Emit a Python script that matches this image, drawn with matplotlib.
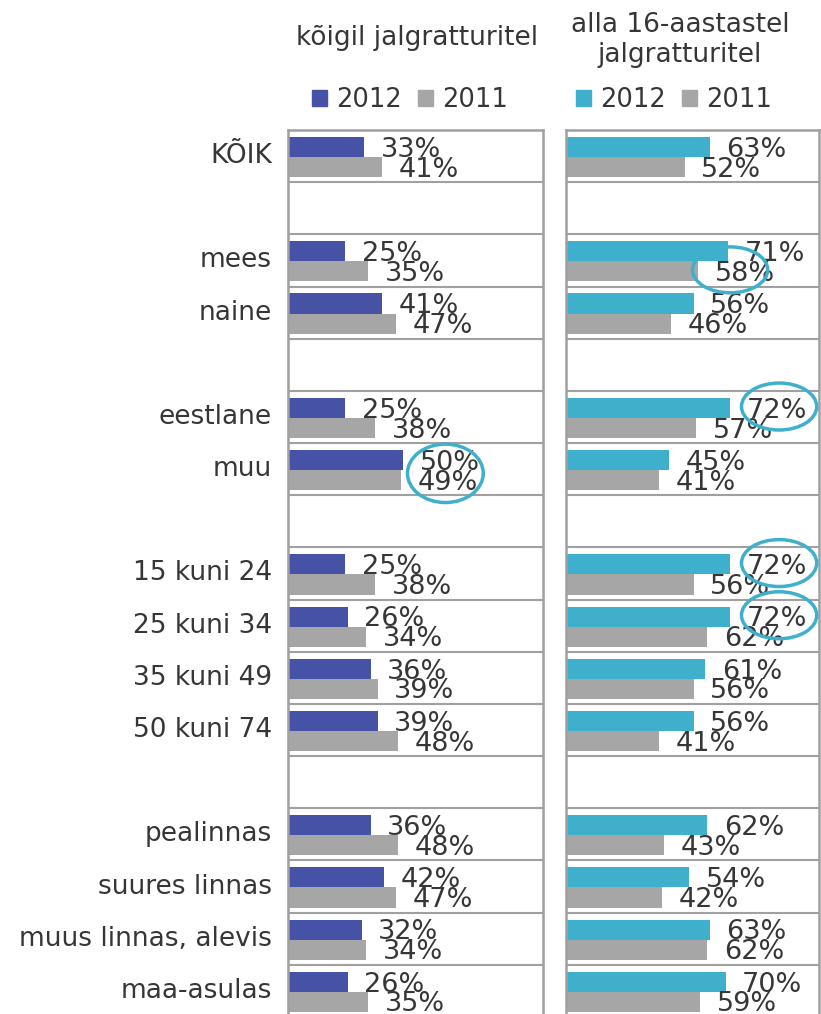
import matplotlib.pyplot as plt
from matplotlib.patches import Ellipse, Patch
import numpy as np

# rows from top to bottom, "" is an empty spacer row
categories = ["KÕIK", "", "mees", "naine", "", "eestlane", "muu", "",
              "15 kuni 24", "25 kuni 34", "35 kuni 49", "50 kuni 74", "",
              "pealinnas", "suures linnas", "muus linnas, alevis", "maa-asulas"]

all_2012 = [33, None, 25, 41, None, 25, 50, None, 25, 26, 36, 39, None, 36, 42, 32, 26]
all_2011 = [41, None, 35, 47, None, 38, 49, None, 38, 34, 39, 48, None, 48, 47, 34, 35]
kids_2012 = [63, None, 71, 56, None, 72, 45, None, 72, 72, 61, 56, None, 62, 54, 63, 70]
kids_2011 = [52, None, 58, 46, None, 57, 41, None, 56, 62, 56, 41, None, 43, 42, 62, 59]

titles = ["kõigil jalgratturitel", "alla 16-aastastel\njalgratturitel"]
years = ["2012", "2011"]

# circled labels: (panel, row, series) series 0 = 2012, 1 = 2011, 2 = both
highlights = [(1, 2, 1), (1, 5, 0), (0, 6, 2), (1, 8, 0), (1, 9, 0)]

BLUE = "#4652A5"
TEAL = "#3FB0CC"
GRAY = "#A6A6A6"
FRAME = "#A0A0A0"
TXT = "#363636"

W, H = 821, 1014
fig = plt.figure(figsize=(W / 100, H / 100), dpi=100)

def px_axes(x0, x1, y0, y1):
    return fig.add_axes([x0 / W, 1 - y1 / H, (x1 - x0) / W, (y1 - y0) / H])

axs = [px_axes(288, 543, 130, 1017), px_axes(566, 819, 130, 1017)]
data = [(all_2012, all_2011, BLUE), (kids_2012, kids_2011, TEAL)]
n = len(categories)
XMAX = 111

for k, ax in enumerate(axs):
    v12, v11, c12 = data[k]
    ax.set_xlim(0, XMAX)
    ax.set_ylim(n, 0)
    for i in range(n):
        if v12[i] is None:
            continue
        ax.barh(i + 0.325, v12[i], height=0.385, color=c12, left=0)
        ax.barh(i + 0.71, v11[i], height=0.385, color=GRAY, left=0)
        ax.annotate(f"{v12[i]}%", (v12[i], i + 0.38), xytext=(12, 0),
                    textcoords="offset points", va="center", ha="left",
                    fontsize=19.5, color=TXT)
        ax.annotate(f"{v11[i]}%", (v11[i], i + 0.76), xytext=(12, 0),
                    textcoords="offset points", va="center", ha="left",
                    fontsize=19.5, color=TXT)
    for y in range(1, n):
        ax.axhline(y, color=FRAME, lw=1.5)
    for s in ax.spines.values():
        s.set_color(FRAME)
        s.set_linewidth(1.8)
    ax.set_xticks([])
    ax.set_yticks([])

    if k == 0:
        fig.text(417 / W, 1 - 38 / H, titles[k], ha="center", va="center",
                 fontsize=19, color=TXT)
    else:
        fig.text(680 / W, 1 - 40 / H, titles[k], ha="center", va="center",
                 fontsize=19, color=TXT, linespacing=1.2)
    handles = [Patch(color=c12), Patch(color=GRAY)]
    lx = 410 / W if k == 0 else 674 / W
    fig.legend(handles, years, loc="center", bbox_to_anchor=(lx, 1 - 100 / H),
               ncol=2, frameon=False, fontsize=18.5, handlelength=0.6,
               handleheight=0.6, handletextpad=0.35, columnspacing=0.6,
               labelcolor=TXT)

for i, c in enumerate(categories):
    if c:
        axs[0].text(-16 * XMAX / 255, i + 0.5, c, ha="right", va="center",
                    fontsize=19, color=TXT, transform=axs[0].transData)

# highlight ellipses around selected labels
for panel, row, series in highlights:
    v12, v11, _ = data[panel]
    ax = axs[panel]
    if series == 0:
        cx, cy, h = v12[row] + 21.5, row + 0.3, 0.9
    elif series == 1:
        cx, cy, h = v11[row] + 14, row + 0.68, 0.88
    else:
        cx, cy, h = max(v12[row], v11[row]) + 18.5, row + 0.58, 1.12
    ax.add_patch(Ellipse((cx, cy), 33, h, fill=False, edgecolor=TEAL,
                         lw=2.5, clip_on=False, zorder=5))

fig.savefig("out.png", dpi=100)
